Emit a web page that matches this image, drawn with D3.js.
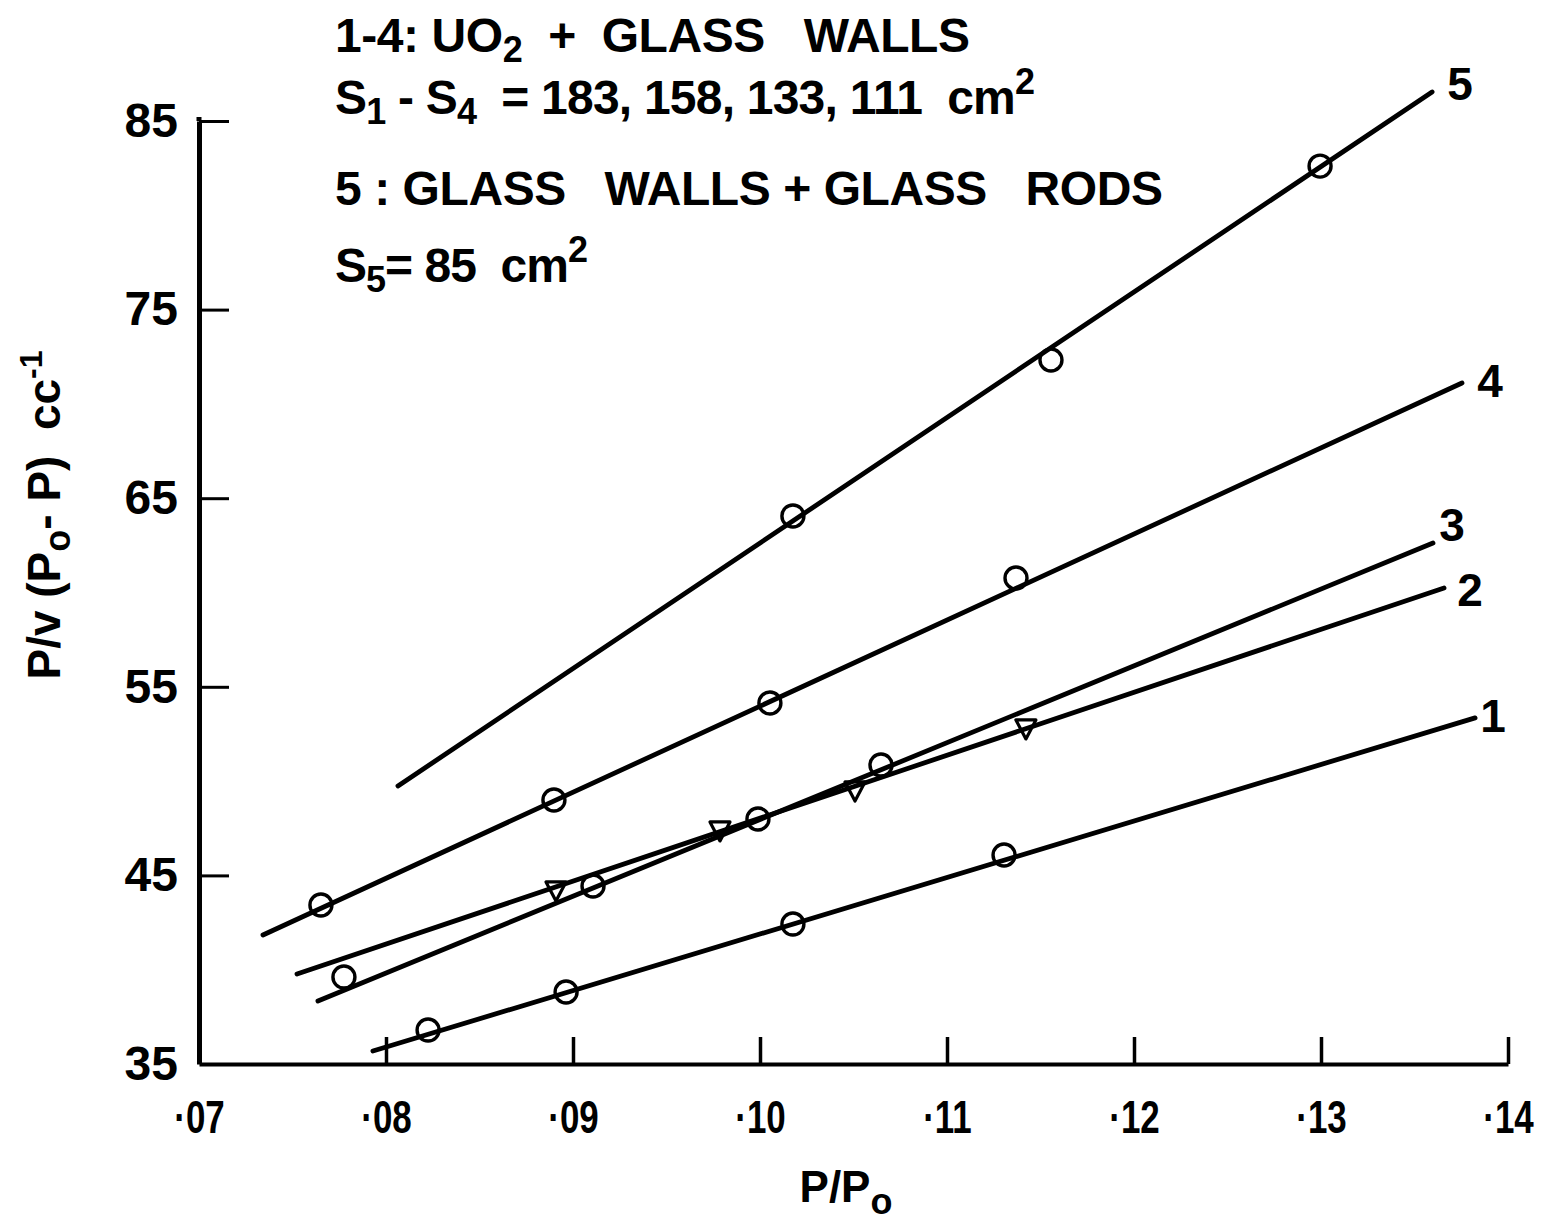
<!DOCTYPE html>
<html><head><meta charset="utf-8">
<script src="https://cdn.jsdelivr.net/npm/d3@7"></script>
<style>
html,body{margin:0;padding:0;background:#fff;}
svg{display:block;font-family:"Liberation Sans",Arial,sans-serif;}
text{white-space:pre;}
</style></head><body>
<svg id="chart" width="1545" height="1221"></svg>
<script>
// ---- data ----
const xTicks = [0.07, 0.08, 0.09, 0.10, 0.11, 0.12, 0.13, 0.14];
const xTickLabels = ["·07", "·08", "·09", "·10", "·11", "·12", "·13", "·14"];
const yTicks = [35, 45, 55, 65, 75, 85];
const yTickLabels = ["35", "45", "55", "65", "75", "85"];

const seriesNames = ["1", "2", "3", "4", "5"];
const seriesMarkers = ["circle", "triangle", "circle", "circle", "circle"];
// fitted straight lines: start and end of each drawn line
const fitStartX = [0.0793, 0.07524, 0.07636, 0.07342, 0.08064];
const fitStartY = [35.69, 39.77, 38.34, 41.84, 49.74];
const fitEndX = [0.13824, 0.13658, 0.13599, 0.13754, 0.13594];
const fitEndY = [53.35, 60.24, 62.62, 71.11, 86.54];

// measured points
const s1X = [0.08225, 0.08963, 0.10176, 0.11305];
const s1Y = [36.80, 38.82, 42.42, 46.08];
const s2X = [0.08909, 0.09786, 0.10508, 0.11422];
const s2Y = [44.23, 47.41, 49.53, 52.82];
const s3X = [0.07775, 0.09107, 0.09989, 0.10647];
const s3Y = [39.61, 44.44, 47.99, 50.85];
const s4X = [0.07652, 0.08898, 0.10053, 0.11369];
const s4Y = [43.43, 49.00, 54.14, 60.77];
const s5X = [0.10176, 0.11556, 0.12995];
const s5Y = [64.06, 72.33, 82.61];

// ---- layout ----
const svg = d3.select("#chart");
const X0 = 199, X1 = 1508, Y0 = 1064, Y1 = 121;
const x = d3.scaleLinear().domain([0.07, 0.14]).range([X0, X1]);
const y = d3.scaleLinear().domain([35, 85]).range([Y0, Y1]);
const INK = "#000";
const FONT = 48;

// axes
const gx = svg.append("g").attr("transform", `translate(0,${Y0})`)
  .call(d3.axisBottom(x).tickValues(xTicks).tickFormat((d, i) => xTickLabels[i])
    .tickSizeInner(-27).tickSizeOuter(0).tickPadding(36));
gx.select(".domain").attr("stroke", INK).attr("stroke-width", 4);
gx.selectAll(".tick line").attr("stroke", INK).attr("stroke-width", 3.5);
gx.selectAll(".tick text").attr("fill", INK).attr("font-size", 46).attr("font-weight", "bold")
  .attr("font-family", '"Liberation Sans",Arial,sans-serif')
  .attr("transform", "scale(0.76,1)");

const gy = svg.append("g").attr("transform", `translate(${X0},0)`)
  .call(d3.axisLeft(y).tickValues(yTicks).tickFormat((d, i) => yTickLabels[i])
    .tickSizeInner(-30).tickSizeOuter(0).tickPadding(21));
gy.select(".domain").attr("stroke", INK).attr("stroke-width", 5);
gy.selectAll(".tick line").attr("stroke", INK).attr("stroke-width", 3)
  .attr("opacity", d => d === 35 ? 0 : 1);
gy.selectAll(".tick text").attr("fill", INK).attr("font-size", FONT).attr("font-weight", "bold")
  .attr("font-family", '"Liberation Sans",Arial,sans-serif');
// extend y axis slightly above top tick
svg.append("line").attr("x1", X0).attr("x2", X0).attr("y1", y(85) - 4).attr("y2", y(85))
  .attr("stroke", INK).attr("stroke-width", 5);

// fitted lines
const fits = seriesNames.map((n, i) => ({
  name: n,
  pts: [[fitStartX[i], fitStartY[i]], [fitEndX[i], fitEndY[i]]]
}));
const lineGen = d3.line().x(d => x(d[0])).y(d => y(d[1]));
svg.append("g").selectAll("path").data(fits).join("path")
  .attr("d", d => lineGen(d.pts)).attr("fill", "none")
  .attr("stroke", INK).attr("stroke-width", 4.8).attr("stroke-linecap", "round");

// series labels at the line ends
const labelOffsets = [[18, -2], [26, 2], [19, -18], [28, -2], [28, -8]];
svg.append("g").selectAll("text").data(fits).join("text")
  .attr("x", (d, i) => x(d.pts[1][0]) + labelOffsets[i][0])
  .attr("y", (d, i) => y(d.pts[1][1]) + labelOffsets[i][1])
  .attr("text-anchor", "middle").attr("dominant-baseline", "central")
  .attr("font-size", 46).attr("font-weight", "bold").attr("fill", INK)
  .text(d => d.name);

// markers
const pointSets = [[s1X, s1Y], [s2X, s2Y], [s3X, s3Y], [s4X, s4Y], [s5X, s5Y]];
const allPts = [];
pointSets.forEach((ps, i) => ps[0].forEach((vx, j) => allPts.push({ x: vx, y: ps[1][j], m: seriesMarkers[i] })));
const mg = svg.append("g");
mg.selectAll("circle").data(allPts.filter(d => d.m === "circle")).join("circle")
  .attr("cx", d => x(d.x)).attr("cy", d => y(d.y)).attr("r", 11)
  .attr("fill", "none").attr("stroke", INK).attr("stroke-width", 3.4);
mg.selectAll("path.tri").data(allPts.filter(d => d.m === "triangle")).join("path")
  .attr("class", "tri")
  .attr("transform", d => `translate(${x(d.x)},${y(d.y)})`)
  .attr("d", "M-10,-8L10,-8L0,11Z")
  .attr("fill", "none").attr("stroke", INK).attr("stroke-width", 3.2).attr("stroke-linejoin", "round");

// axis titles
const xt = svg.append("text").attr("x", 846).attr("y", 1202).attr("text-anchor", "middle")
  .attr("font-size", 44).attr("font-weight", "bold").attr("fill", INK);
xt.append("tspan").text("P/P");
xt.append("tspan").attr("font-size", 36).attr("dy", 12).text("o");

const yt = svg.append("text").attr("transform", "translate(60,515) rotate(-90)")
  .attr("text-anchor", "middle").attr("font-size", 46).attr("font-weight", "bold").attr("fill", INK);
yt.append("tspan").text("P/v (P");
yt.append("tspan").attr("font-size", 36).attr("dy", 10).text("o");
yt.append("tspan").attr("dy", -10).text("- P)  cc");
yt.append("tspan").attr("font-size", 32).attr("dy", -18).text("-1");

// annotation block
const ann = svg.append("g").attr("font-size", 48).attr("font-weight", "bold").attr("fill", INK);
const a1 = ann.append("text").attr("x", 335).attr("y", 52).attr("textLength", 635).attr("lengthAdjust", "spacing");
a1.append("tspan").text("1-4: UO");
a1.append("tspan").attr("font-size", 36).attr("dy", 10).text("2");
a1.append("tspan").attr("dy", -10).text("  +  GLASS   WALLS");

const a2 = ann.append("text").attr("x", 335).attr("y", 114).attr("textLength", 700).attr("lengthAdjust", "spacing");
a2.append("tspan").text("S");
a2.append("tspan").attr("font-size", 36).attr("dy", 10).text("1");
a2.append("tspan").attr("dy", -10).text(" - S");
a2.append("tspan").attr("font-size", 36).attr("dy", 10).text("4");
a2.append("tspan").attr("dy", -10).text("  = 183, 158, 133, 111  cm");
a2.append("tspan").attr("font-size", 36).attr("dy", -20).text("2");

const a3 = ann.append("text").attr("x", 335).attr("y", 205).attr("textLength", 828).attr("lengthAdjust", "spacing");
a3.text("5 : GLASS   WALLS + GLASS   RODS");

const a4 = ann.append("text").attr("x", 335).attr("y", 282).attr("textLength", 253).attr("lengthAdjust", "spacing");
a4.append("tspan").text("S");
a4.append("tspan").attr("font-size", 36).attr("dy", 10).text("5");
a4.append("tspan").attr("dy", -10).text("= 85  cm");
a4.append("tspan").attr("font-size", 36).attr("dy", -20).text("2");
</script>
</body></html>
